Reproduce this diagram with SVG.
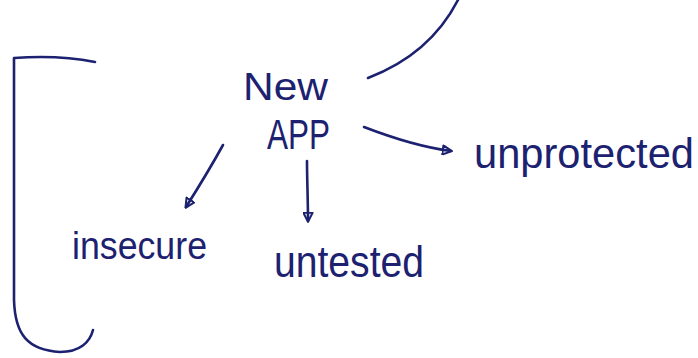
<svg xmlns="http://www.w3.org/2000/svg" width="698" height="358" viewBox="0 0 698 358">
  <style>
    .ink { fill: none; stroke: #1c2170; stroke-width: 2.6; stroke-linecap: round; stroke-linejoin: round; }
    .head { fill: none; stroke: #1c2170; stroke-width: 2.2; stroke-linejoin: round; }
    .label { fill: #1c2170; font-family: "Liberation Sans", "DejaVu Sans", sans-serif; }
  </style>
  <defs>
    <marker id="tri" viewBox="0 0 12 12" refX="10" refY="6" markerWidth="11" markerHeight="11" markerUnits="userSpaceOnUse" orient="auto">
      <path d="M1,1 L11,6 L1,11 Z" class="head"/>
    </marker>
  </defs>
  <rect width="698" height="358" fill="#ffffff"/>

  <!-- bracket on the left -->
  <g id="bracket">
    <path class="ink" d="M95,62 C70,57 40,56 14,58 L14,300 C15,335 28,350 60,352 C80,352 90,342 93,330"/>
  </g>

  <!-- curve coming down from above -->
  <g id="top-curve">
    <path class="ink" d="M458,0 C440,35 410,62 368,78"/>
  </g>

  <g id="new-app">
    <text class="label" x="243" y="100" font-size="38" textLength="85" lengthAdjust="spacingAndGlyphs">New</text>
    <text class="label" x="267" y="149" font-size="42" textLength="63" lengthAdjust="spacingAndGlyphs">APP</text>
  </g>

  <g id="insecure">
    <text class="label" x="72" y="259" font-size="38" textLength="135" lengthAdjust="spacingAndGlyphs">insecure</text>
  </g>

  <g id="untested">
    <text class="label" x="274" y="277" font-size="44" textLength="150" lengthAdjust="spacingAndGlyphs">untested</text>
  </g>

  <g id="unprotected">
    <text class="label" x="474" y="168" font-size="42" textLength="220" lengthAdjust="spacingAndGlyphs">unprotected</text>
  </g>

  <g id="connectors">
    <path class="ink" d="M223,145 C212,165 198,188 186,207" marker-end="url(#tri)"/>
    <path class="ink" d="M307,161 C307,180 308,200 308,221" marker-end="url(#tri)"/>
    <path class="ink" d="M364,127 C390,137 420,147 451,151" marker-end="url(#tri)"/>
  </g>
</svg>
